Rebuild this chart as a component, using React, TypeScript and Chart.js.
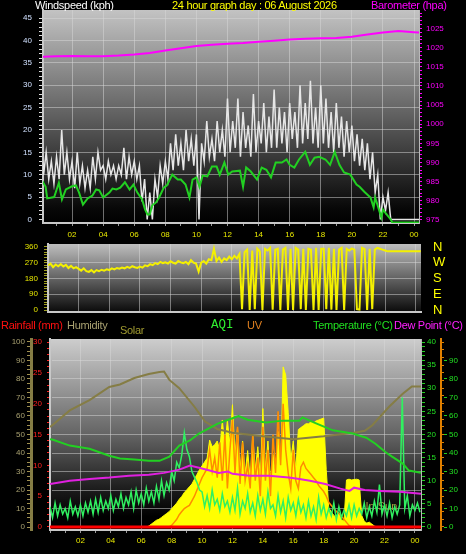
import React, { useEffect, useRef } from 'react';
import { Chart, registerables } from 'chart.js';

Chart.register(...registerables);

const FONT = "'Liberation Sans', Arial, Helvetica, sans-serif";
const GRID = 'rgba(215,215,215,0.5)';

// ---------- time axis ----------
const xLabelHours = [2, 4, 6, 8, 10, 12, 14, 16, 18, 20, 22, 24];
const xLabels = ['02', '04', '06', '08', '10', '12', '14', '16', '18', '20', '22', '00'];

// ---------- panel 1 : wind speed & barometer ----------
const windTicks = ['0', '5', '10', '15', '20', '25', '30', '35', '40', '45'];
const baroTickLabels = ['975', '980', '985', '990', '995', '1000', '1005', '1010', '1015', '1020', '1025'];

// gust, every 10 minutes from 00:00
const gustValues = [
  18, 10, 15, 9, 13, 8,
  14, 9, 20, 10, 15, 9,
  13, 7, 15, 8, 12, 7,
  11, 7, 14, 9, 15, 11,
  12, 9, 13, 10, 12, 9,
  12, 10, 16, 9, 14, 10,
  13, 9, 12, 4, 9, 0,
  6, 0, 9, 5, 12, 8,
  13, 9, 17, 11, 19, 12,
  17, 11, 20, 13, 18, 12,
  19, 0, 17, 13, 22, 14,
  18, 13, 22, 15, 20, 14,
  27, 15, 22, 16, 27, 14,
  24, 16, 21, 14, 28, 15,
  22, 17, 26, 15, 23, 16,
  29, 16, 25, 17, 24, 15,
  26, 18, 24, 16, 30, 17,
  26, 18, 31, 17, 25, 16,
  30, 17, 27, 16, 24, 15,
  26, 16, 23, 14, 22, 15,
  21, 13, 19, 12, 18, 11,
  17, 9, 15, 6, 10, 0,
  5, 2, 6, 0, 0, 0,
  0, 0, 0, 0, 0, 0,
  0, 0, 0,
];

const avgTimes = [0, 0.3, 0.4, 0.85, 1.15, 1.35, 1.6, 2, 2.25, 2.45, 2.7, 3, 3.3, 3.55, 3.75, 4, 4.4, 4.6, 4.85, 5.1, 5.4, 5.7, 5.95, 6.2, 6.5, 6.7, 6.85, 7, 7.15, 7.4, 7.6, 7.9, 8.1, 8.45, 8.8, 9, 9.3, 9.55, 9.75, 10, 10.2, 10.4, 10.7, 11, 11.3, 11.5, 11.8, 12.05, 12.3, 12.8, 13, 13.2, 13.5, 13.9, 14.2, 14.5, 14.8, 15.1, 15.5, 15.8, 16, 16.3, 16.6, 17, 17.3, 17.6, 17.9, 18.3, 18.6, 18.9, 19.2, 19.5, 19.9, 20.3, 20.5, 20.8, 21.2, 21.4, 21.5, 21.7, 21.9, 22, 22.2, 22.5, 22.6, 24.4];
const avgValues = [9.1, 7.3, 4.7, 5, 8.2, 4.5, 6.7, 7.4, 7.6, 6, 3.3, 4.7, 5.3, 6.7, 6.5, 4.9, 6, 6.9, 6.7, 7.1, 8.3, 6.7, 7.8, 6, 4.5, 2.2, 1.1, 1.1, 3.1, 3.8, 4.9, 7.1, 7.6, 10, 8.9, 8.9, 7.8, 4.9, 8.9, 9.4, 7.3, 9.8, 9.6, 11.8, 11.8, 10, 12.7, 10, 10.7, 10.9, 7.3, 11.6, 10.7, 8.9, 11.6, 11.1, 9.4, 12.7, 12.7, 13.4, 12.2, 11.6, 13.4, 15.1, 12.2, 13.8, 14, 13.4, 12.2, 15.1, 12.2, 10.5, 10, 7.8, 7.3, 6.2, 4.9, 2.7, 4.9, 2.7, 0.4, 2.2, 1.3, 0, -0.7, -0.7];

const baroTimes = [0, 1, 2, 3, 4, 5, 6, 7, 8, 9, 10, 11, 12, 13, 14, 15, 16, 17, 18, 19, 20, 21, 22, 23, 24, 24.4];
const baroValues = [1017.6, 1017.7, 1017.8, 1017.7, 1017.7, 1017.9, 1018.2, 1018.6, 1019.2, 1019.8, 1020.4, 1020.7, 1021.0, 1021.2, 1021.5, 1021.8, 1022.1, 1022.3, 1022.4, 1022.5, 1022.8, 1023.4, 1023.9, 1024.3, 1024.0, 1023.9];

// ---------- panel 2 : wind direction ----------
const dirTickValues = [0, 90, 180, 270, 360];
const dirTickLabels = ['0', '90', '180', '270', '360'];
const compassLabels = ['N', 'E', 'S', 'W', 'N'];
const dirValues = [
  255, 265, 245, 260, 250, 262,
  248, 258, 240, 252, 238, 245,
  235, 225, 238, 222, 218, 228,
  215, 228, 222, 230, 225, 232,
  228, 238, 232, 240, 236, 242,
  238, 246, 240, 250, 244, 240,
  248, 242, 255, 250, 262, 256,
  268, 262, 275, 268, 272, 265,
  278, 270, 265, 280, 272, 268,
  275, 262, 285, 270, 265, 220,
  270, 280, 265, 290, 285, 350,
  280, 300, 275, 295, 285, 305,
  290, 310, 295, 320, 5, 330,
  345, 0, 340, 5, 350, 335,
  0, 350, 340, 355, 2, 345,
  350, 0, 345, 355, 0, 350,
  0, 355, 345, 5, 350, 0,
  350, 345, 0, 355, 0, 350,
  350, 5, 355, 2, 350, 0,
  345, 355, 0, 350, 340, 352,
  345, 5, 2, 355, 348, 0,
  350, 5, 345, 355, 350, 345,
  340, 335, 335, 335, 335, 335,
  335, 335, 335, 335, 335, 335,
  335, 335, 335,
];

// ---------- panel 3 : temperature, humidity, solar, UV, AQI, rain ----------
const tempTimes = [0, 0.15, 1.3, 2.6, 3.9, 4.6, 5.55, 6.5, 7.2, 7.85, 8.5, 9.2, 9.8, 10.2, 11, 12, 12.4, 13, 14.2, 15.3, 16.4, 16.6, 17.5, 18.6, 19.9, 20.8, 21.4, 22.1, 22.5, 23.2, 23.6, 24.4];
const tempValues = [19.0, 18.9, 17.6, 16.9, 15.4, 14.8, 14.6, 14.3, 14.3, 15.2, 17.6, 18.7, 20.2, 20.9, 22.3, 23.5, 24.0, 23.2, 22.6, 23.0, 23.0, 23.7, 22.4, 20.9, 20.2, 19.3, 18.0, 16.1, 15.2, 13.7, 12.2, 11.7];

const dewTimes = [0, 1.3, 2.6, 3.9, 5.2, 6.5, 7.5, 8.5, 9.2, 9.8, 10.5, 11.1, 11.7, 12, 13.1, 14.4, 15.7, 16.4, 17.1, 18.1, 19.1, 19.7, 20, 20.7, 21.7, 23, 24.4];
const dewValues = [9.3, 10, 10.4, 10.7, 11.1, 11.3, 11.7, 12.4, 13.3, 12.8, 12.2, 11.7, 12, 11.5, 11.1, 11.1, 10.7, 10.4, 10, 9.3, 8.3, 7.8, 8.5, 8, 7.8, 7.6, 7.2];

const humTimes = [0, 0.15, 1.3, 2.6, 3.9, 4.6, 5.55, 6.5, 7.2, 7.5, 7.85, 8.5, 9.5, 10.2, 11, 12, 14, 16, 18, 19, 20, 20.7, 21.2, 22.3, 23.2, 23.8, 24.4];
const humValues = [54, 55, 63, 68.6, 75.7, 77, 80.5, 82.7, 83.8, 84, 79.5, 75, 65, 57, 53, 51, 49, 47.5, 49, 50, 51, 52, 55, 65, 72, 76, 76];

// AQI every 10 minutes from 00:00
const aqiValues = [
  11, 5, 13, 6, 12, 7,
  10, 5, 14, 7, 11, 6,
  12, 6, 13, 8, 14, 7,
  15, 8, 16, 9, 14, 10,
  17, 9, 15, 11, 18, 10,
  16, 12, 19, 10, 20, 13,
  18, 12, 21, 14, 19, 13,
  22, 15, 25, 17, 24, 20,
  30, 25, 35, 32, 39, 51,
  42, 38, 30, 27, 24, 20,
  19, 11, 17, 10, 20, 12,
  15, 9, 18, 11, 14, 8,
  16, 9, 21, 7, 14, 10,
  18, 8, 13, 6, 17, 9,
  15, 7, 19, 10, 12, 6,
  17, 8, 14, 5, 16, 9,
  13, 6, 15, 8, 12, 5,
  14, 6, 11, 4, 16, 7,
  12, 5, 10, 6, 13, 4,
  11, 5, 9, 6, 12, 5,
  12, 6, 10, 7, 13, 5,
  11, 6, 14, 8, 23, 7,
  12, 6, 13, 5, 11, 7,
  12, 70, 10, 17, 6, 12,
  9, 13, 8,
];

// solar every 10 minutes from 06:20
const solarStartMinute = 380;
const solarValues = [
  0, 5, 15, 25,
  35, 40, 50, 60, 70, 80,
  95, 110, 125, 145, 160, 180,
  195, 210, 225, 250, 275, 300,
  320, 340, 360, 455, 420, 430,
  450, 400, 560, 420, 560, 430,
  640, 380, 520, 300, 450, 280,
  400, 250, 480, 300, 420, 260,
  620, 300, 450, 250, 380, 280,
  500, 300, 838, 796, 600, 350,
  450, 300, 510, 520, 530, 540,
  540, 550, 545, 555, 560, 565,
  570, 300, 100, 80, 60, 50,
  70, 40, 30, 246, 250, 246,
  248, 250, 246, 60, 30, 20,
  25, 15, 5, 0,
];

// UV every 10 minutes from 07:50
const uvStartMinute = 470;
const uvValues = [
  0,
  0.1, 0.3, 0.5, 0.8, 1.0, 1.2,
  1.3, 1.4, 1.7, 2.0, 2.4, 2.8,
  3.2, 3.5, 3.8, 5.0, 3.6, 4.5,
  3.2, 5.5, 3.0, 6.0, 2.5, 5.0,
  7.0, 3.5, 6.5, 2.8, 5.5, 3.0,
  4.0, 2.5, 6.0, 3.0, 4.5, 2.0,
  6.5, 3.0, 5.0, 2.0, 6.0, 3.5,
  7.5, 4.0, 8.0, 5.0, 3.5, 2.5,
  5.0, 3.0, 2.5, 3.9, 4.2, 3.8,
  3.6, 3.4, 3.2, 3.0, 2.7, 2.5,
  2.3, 2.0, 1.6, 1.4, 1.2, 1.0,
  0.9, 0.7, 0.5, 0.3, 0.1, 0,
];

const rainTimes = [0, 24.4];
const rainValues = [0, 0];

// ---------- helpers ----------
const range = (a: number, b: number, s: number) => {
  const r: number[] = [];
  for (let v = a; v <= b + 1e-9; v += s) r.push(Math.round(v * 1000) / 1000);
  return r;
};
const tenMinTimes = (startMinute: number, n: number) => Array.from({ length: n }, (_, i) => (startMinute + 10 * i) / 60);
const pts = (t: number[], v: number[]) => v.map((y, i) => ({ x: t[i], y }));
const noPad = (s: any) => { s.paddingTop = 0; s.paddingBottom = 0; s.paddingLeft = 0; s.paddingRight = 0; };
const fixW = (w: number) => (s: any) => { s.width = w; noPad(s); };
const fixH = (h: number) => (s: any) => { s.height = h; noPad(s); };
const setTicks = (vals: number[]) => (s: any) => { s.ticks = vals.filter((v) => v >= s.min - 1e-9 && v <= s.max + 1e-9).map((value) => ({ value })); };
const labelFrom = (vals: number[], labels: string[]) => (v: number) => {
  const i = vals.findIndex((x) => Math.abs(x - v) < 1e-6);
  return i >= 0 ? labels[i] : '';
};
const font8 = { family: FONT, size: 8 };

const bgPlugin = (stops: [number, string][]) => ({
  id: 'plotBg',
  beforeDraw(chart: any) {
    const { ctx, chartArea: a } = chart;
    const g = ctx.createLinearGradient(0, a.top, 0, a.bottom);
    stops.forEach(([o, c]) => g.addColorStop(o, c));
    ctx.save();
    ctx.fillStyle = g;
    ctx.fillRect(a.left, a.top, a.right - a.left, a.bottom - a.top);
    ctx.restore();
  },
});

function timeAxis(min: number, max: number, height: number, showLabels: boolean, pad: number) {
  return {
    type: 'linear',
    min,
    max,
    afterBuildTicks: setTicks(range(0, 24, 1)),
    afterFit: fixH(height),
    ticks: {
      display: showLabels,
      autoSkip: false,
      maxRotation: 0,
      color: '#e8e800',
      font: font8,
      padding: pad,
      callback: labelFrom(xLabelHours, xLabels),
    },
    grid: {
      color: (ctx: any) => (ctx.tick && xLabelHours.includes(ctx.tick.value) ? GRID : 'transparent'),
      borderDash: [1, 2],
      drawTicks: showLabels,
      tickLength: 3,
      tickColor: '#9a9a9a',
      tickBorderDash: [],
    },
    border: { display: true, color: '#c8c8c8', width: 2 },
  };
}

export default function App() {
  const c1 = useRef<HTMLCanvasElement>(null);
  const c2 = useRef<HTMLCanvasElement>(null);
  const c3 = useRef<HTMLCanvasElement>(null);

  useEffect(() => {
    const base = {
      responsive: false,
      maintainAspectRatio: false,
      animation: false,
      devicePixelRatio: 1,
      plugins: { legend: { display: false }, tooltip: { enabled: false } },
      elements: { point: { radius: 0 }, line: { tension: 0 } },
    };
    const windTickVals = windTicks.map(Number);
    const baroTickVals = baroTickLabels.map(Number);

    const chart1 = new Chart(c1.current as HTMLCanvasElement, {
      type: 'line',
      data: {
        datasets: [
          { data: pts(baroTimes, baroValues), yAxisID: 'baro', borderColor: '#ff00ff', borderWidth: 2 },
          { data: pts(avgTimes, avgValues), yAxisID: 'y', borderColor: '#22d022', borderWidth: 2 },
          { data: pts(tenMinTimes(0, gustValues.length), gustValues), yAxisID: 'y', borderColor: '#e6e6e6', borderWidth: 1.5 },
        ],
      },
      options: {
        ...base,
        layout: { padding: { top: 10, left: 0, right: 0, bottom: 0 } },
        scales: {
          x: timeAxis(0.13, 24.32, 22, true, 4),
          y: {
            type: 'linear',
            position: 'left',
            min: -0.8,
            max: 46.8,
            afterBuildTicks: setTicks(range(0, 45, 1)),
            afterFit: fixW(43),
            ticks: { autoSkip: false, color: '#d0e0ff', font: font8, padding: 7, callback: labelFrom(windTickVals, windTicks) },
            grid: {
              color: (ctx: any) => (ctx.tick && ctx.tick.value % 5 === 0 && ctx.tick.value > 0 ? GRID : 'transparent'),
              borderDash: [1, 2],
              tickLength: 4,
              tickColor: '#e0e0e0',
              tickBorderDash: [],
            },
            border: { display: true, color: '#c8c8c8', width: 2 },
          },
          baro: {
            type: 'linear',
            position: 'right',
            min: 974.2,
            max: 1029.8,
            afterBuildTicks: setTicks(range(975, 1029, 1)),
            afterFit: fixW(47),
            ticks: { autoSkip: false, color: '#ff00ff', font: font8, padding: 4, callback: labelFrom(baroTickVals, baroTickLabels) },
            grid: { drawOnChartArea: false, tickLength: 3, tickColor: '#ff00ff' },
            border: { display: true, color: '#b8b8b8', width: 1 },
          },
        },
      },
      plugins: [bgPlugin([[0, 'rgb(195,195,195)'], [0.5, 'rgb(95,95,95)'], [0.93, 'rgb(8,8,8)'], [1, 'rgb(0,0,0)']])],
    } as any);

    const chart2 = new Chart(c2.current as HTMLCanvasElement, {
      type: 'line',
      data: {
        datasets: [
          { data: pts(tenMinTimes(0, dirValues.length), dirValues), yAxisID: 'y', borderColor: '#f4f000', borderWidth: 2 },
        ],
      },
      options: {
        ...base,
        layout: { padding: { top: 4, left: 0, right: 0, bottom: 0 } },
        scales: {
          x: timeAxis(0, 24.35, 8, false, 0),
          y: {
            type: 'linear',
            position: 'left',
            min: -11.4,
            max: 377,
            afterBuildTicks: setTicks(range(0, 360, 15)),
            afterFit: fixW(48),
            ticks: { autoSkip: false, color: '#e4e400', font: font8, padding: 6, callback: labelFrom(dirTickValues, dirTickLabels) },
            grid: {
              color: (ctx: any) => (ctx.tick && ctx.tick.value % 90 === 0 && ctx.tick.value > 0 && ctx.tick.value < 360 ? GRID : 'transparent'),
              borderDash: [1, 2],
              tickLength: 4,
              tickColor: '#a0a020',
              tickBorderDash: [],
            },
            border: { display: true, color: '#c8c8c8', width: 2 },
          },
          compass: {
            type: 'linear',
            position: 'right',
            min: -11.4,
            max: 377,
            afterBuildTicks: setTicks(dirTickValues),
            afterFit: fixW(45),
            ticks: { autoSkip: false, color: '#ffff00', font: { family: FONT, size: 13 }, padding: 12, callback: labelFrom(dirTickValues, compassLabels) },
            grid: { drawOnChartArea: false, drawTicks: false },
            border: { display: false },
          },
        },
      },
      plugins: [bgPlugin([[0, 'rgb(190,190,190)'], [1, 'rgb(10,10,10)']])],
    } as any);

    const inSunPlugin = {
      id: 'inSun',
      beforeDatasetsDraw(chart: any) {
        const { ctx, scales } = chart;
        ctx.save();
        ctx.fillStyle = '#a89a40';
        ctx.font = `11px ${FONT}`;
        ctx.textBaseline = 'middle';
        ctx.fillText('In Sun', scales.x.getPixelForValue(20.75), scales.hum.getPixelForValue(11));
        ctx.restore();
      },
    };

    const chart3 = new Chart(c3.current as HTMLCanvasElement, {
      type: 'line',
      data: {
        datasets: [
          { data: pts(tempTimes, tempValues), yAxisID: 'temp', borderColor: '#22d022', borderWidth: 2 },
          { data: pts(dewTimes, dewValues), yAxisID: 'temp', borderColor: '#e020e0', borderWidth: 2 },
          { data: pts(tenMinTimes(0, aqiValues.length), aqiValues), yAxisID: 'aqi', borderColor: '#30f060', borderWidth: 1.5 },
          { data: pts(rainTimes, rainValues), yAxisID: 'rain', borderColor: '#ff0000', borderWidth: 3 },
          { data: pts(humTimes, humValues), yAxisID: 'hum', borderColor: '#857d45', borderWidth: 2 },
          { data: pts(tenMinTimes(uvStartMinute, uvValues.length), uvValues), yAxisID: 'uv', borderColor: '#ff8c00', borderWidth: 1.5 },
          { data: pts(tenMinTimes(solarStartMinute, solarValues.length), solarValues), yAxisID: 'solar', borderColor: '#ffff00', backgroundColor: '#ffff00', borderWidth: 1, fill: 'origin' },
        ],
      },
      options: {
        ...base,
        layout: { padding: { top: 21, left: 0, right: 0, bottom: 0 } },
        scales: {
          x: timeAxis(0, 24.4, 24, true, 3),
          hum: {
            type: 'linear',
            position: 'left',
            weight: 2,
            min: -1.6,
            max: 101.6,
            afterBuildTicks: setTicks(range(0, 100, 2.5)),
            afterFit: fixW(31),
            ticks: { autoSkip: false, color: '#a8a070', font: font8, padding: 2, callback: (v: number) => (v % 10 === 0 ? String(v) : '') },
            grid: {
              color: (ctx: any) => (ctx.tick && ctx.tick.value % 10 === 0 && ctx.tick.value > 0 && ctx.tick.value < 100 ? GRID : 'transparent'),
              borderDash: [1, 2],
              tickLength: 4,
              tickColor: '#a09050',
              tickBorderDash: [],
            },
            border: { display: true, color: '#857d45', width: 3 },
          },
          rain: {
            type: 'linear',
            position: 'left',
            weight: 1,
            min: -0.49,
            max: 30.49,
            afterBuildTicks: setTicks(range(0, 30, 1)),
            afterFit: fixW(19),
            ticks: { autoSkip: false, color: '#ff2020', font: font8, padding: 5, callback: (v: number) => (v % 5 === 0 ? String(v) : '') },
            grid: { drawOnChartArea: false, tickLength: 3, tickColor: '#ff2020' },
            border: { display: true, color: '#c8c8c8', width: 2 },
          },
          temp: {
            type: 'linear',
            position: 'right',
            weight: 1,
            min: -0.65,
            max: 40.65,
            afterBuildTicks: setTicks(range(0, 40, 1)),
            afterFit: fixW(20),
            ticks: { autoSkip: false, color: '#22e022', font: font8, padding: 2, callback: (v: number) => (v % 5 === 0 ? String(v) : '') },
            grid: { drawOnChartArea: false, tickLength: 4, tickColor: '#22d022' },
            border: { display: true, color: '#b8b8b8', width: 1 },
          },
          uv: {
            type: 'linear',
            position: 'right',
            weight: 2,
            min: -0.195,
            max: 12.195,
            afterBuildTicks: setTicks(range(0, 12, 0.5)),
            afterFit: fixW(3),
            ticks: { autoSkip: false, color: '#ff8c1a', font: font8, padding: 3, callback: (v: number) => (Number.isInteger(v) ? String(v) : '') },
            grid: { drawOnChartArea: false, tickLength: 3, tickColor: '#e08000' },
            border: { display: true, color: '#e08000', width: 2 },
          },
          aqi: {
            type: 'linear',
            position: 'right',
            weight: 3,
            min: -1.6,
            max: 101.6,
            afterBuildTicks: setTicks(range(0, 90, 10)),
            afterFit: fixW(22),
            ticks: { autoSkip: false, color: '#22e022', font: font8, padding: 2, callback: (v: number) => String(v) },
            grid: { drawOnChartArea: false, tickLength: 3, tickColor: '#22d022' },
            border: { display: false },
          },
          solar: { type: 'linear', display: false, min: -16, max: 984 },
        },
      },
      plugins: [bgPlugin([[0, 'rgb(205,205,205)'], [0.5, 'rgb(100,100,100)'], [0.8, 'rgb(25,25,25)'], [0.93, 'rgb(0,0,0)'], [1, 'rgb(0,0,0)']]), inSunPlugin],
    } as any);

    return () => {
      chart1.destroy();
      chart2.destroy();
      chart3.destroy();
    };
  }, []);

  const txt = (left: number, top: number, color: string, text: string, extra: React.CSSProperties = {}) => (
    <div
      style={{
        position: 'absolute',
        left,
        top,
        color,
        fontFamily: FONT,
        fontSize: 11,
        lineHeight: '13px',
        letterSpacing: '-0.3px',
        whiteSpace: 'nowrap',
        zIndex: 2,
        ...extra,
      }}
    >
      {text}
    </div>
  );

  return (
    <div style={{ position: 'fixed', left: 0, top: 0, width: 466, height: 554, background: '#000', overflow: 'hidden' }}>
      <canvas ref={c1} width={466} height={245} style={{ position: 'absolute', left: 0, top: 0, width: 466, height: 245 }} />
      <canvas ref={c2} width={466} height={80} style={{ position: 'absolute', left: 0, top: 240, width: 466, height: 80 }} />
      <canvas ref={c3} width={466} height={236} style={{ position: 'absolute', left: 0, top: 318, width: 466, height: 236 }} />
      {txt(35, -1, '#ffffff', 'Windspeed (kph)')}
      {txt(172, -1, '#ffff00', '24 hour graph day : 06 August 2026')}
      {txt(371, -1, '#ff00ff', 'Barometer (hpa)')}
      {txt(1, 319, '#ff1010', 'Rainfall (mm)')}
      {txt(67, 319, '#a8a070', 'Humidity')}
      {txt(120, 324, '#a09a30', 'Solar')}
      {txt(211, 318, '#30f030', 'AQI', { fontFamily: "'Liberation Mono', 'DejaVu Sans Mono', monospace", fontSize: 12.5, lineHeight: '15px', letterSpacing: '0px' })}
      {txt(247, 319, '#e08020', 'UV')}
      {txt(313, 319, '#20e020', 'Temperature (°C)')}
      {txt(394, 319, '#ff20ff', 'Dew Point (°C)')}
    </div>
  );
}
